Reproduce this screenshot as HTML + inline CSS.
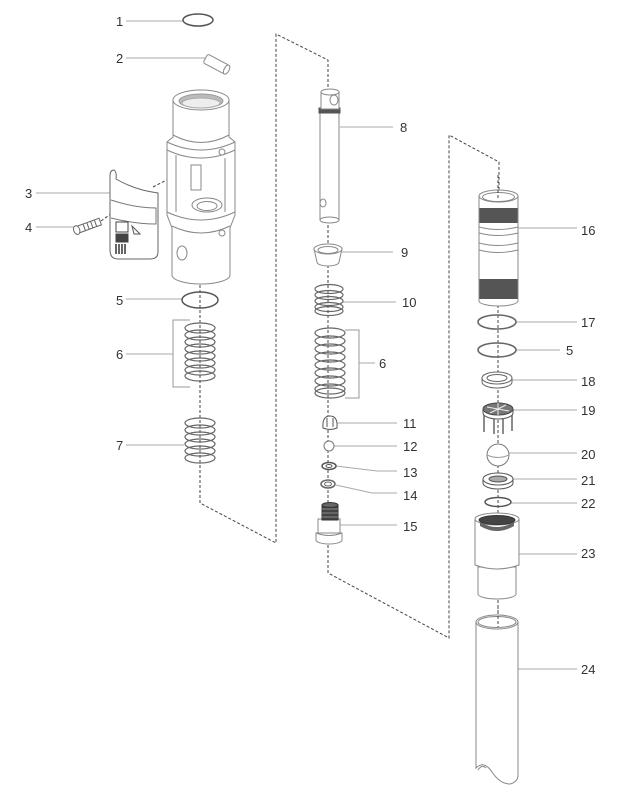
<!DOCTYPE html>
<html><head><meta charset="utf-8"><style>
html,body{margin:0;padding:0;background:#fff;}
svg{display:block;}
text{font-family:"Liberation Sans",sans-serif;font-size:13px;fill:#333;}
</style></head><body>
<svg width="640" height="796" viewBox="0 0 640 796" xmlns="http://www.w3.org/2000/svg">
<!-- dashed guide lines -->
<g fill="none" stroke="#444" stroke-width="1" stroke-dasharray="3 2">
<path d="M200,280 V503 L276,543 V34 L328,60 V88"/>
<path d="M328,220 V573 L449,638 V135 L499,162 V200"/>
<path d="M498,300 V625"/>
<path d="M153,187 L190,168"/>
<path d="M101,221 L112,213"/>
</g>
<!-- label leader lines -->
<g stroke="#aaa" stroke-width="1" fill="none">
<path d="M126,21 H183"/>
<path d="M126,58 H205"/>
<path d="M36,193 H110 V178"/>
<path d="M36,227 H76"/>
<path d="M126,299 H182"/>
<path d="M126,354 H173"/>
<path d="M126,445 H184"/>
<path d="M340,127 H393"/>
<path d="M342,252 H393"/>
<path d="M343,302 H396"/>
<path d="M359,363 H375"/>
<path d="M337,423 H397"/>
<path d="M334,446 H397"/>
<path d="M336,466 L377,471 H397"/>
<path d="M336,485 L372,493 H397"/>
<path d="M340,525 H397"/>
<path d="M515,228 H577"/>
<path d="M516,322 H577"/>
<path d="M516,350 H560"/>
<path d="M512,380 H577"/>
<path d="M513,410 H577"/>
<path d="M509,453 H577"/>
<path d="M513,479 H577"/>
<path d="M511,503 H577"/>
<path d="M509,554 H577"/>
<path d="M508,669 H577"/>
</g>
<!-- bracket lines for 6 -->
<g stroke="#999" stroke-width="1" fill="none">
<path d="M190,320 H173 V387 H190"/>
<path d="M345,330 H359 V398 H345"/>
</g>

<g stroke="#888" stroke-width="1" fill="#fff">
<!-- 1 ring -->
<ellipse cx="198" cy="20" rx="15" ry="6" fill="none" stroke="#555" stroke-width="1.5"/>
<!-- 2 pin -->
<g transform="translate(216,64) rotate(28)">
<rect x="-12" y="-5" width="24" height="10" rx="2"/>
<ellipse cx="12" cy="0" rx="2.5" ry="5"/>
</g>
<!-- housing 3 body -->
<path d="M173,100 V137 L167,142 V215 L172,228 V275 A29,9 0 0 0 230,275 V228 L235,215 V142 L229,137 V100 Z"/>
<ellipse cx="201" cy="100" rx="28" ry="10"/>
<ellipse cx="201" cy="101" rx="22" ry="7" fill="#bbb" stroke="#999"/>
<ellipse cx="201" cy="103" rx="19" ry="5" fill="#eee" stroke="#aaa"/>
<path d="M173,135 Q201,150 229,135" fill="none"/>
<path d="M167,142 Q201,158 235,142" fill="none"/>
<path d="M167,150 Q201,166 235,150" fill="none"/>
<path d="M176,155 V212 M225,158 V212" fill="none"/>
<rect x="191" y="165" width="10" height="25" fill="#fff"/>
<ellipse cx="207" cy="205" rx="15" ry="7"/>
<ellipse cx="207" cy="206" rx="10" ry="4.5"/>
<path d="M167,212 Q201,228 235,212" fill="none"/>
<path d="M172,226 Q201,240 230,226" fill="none"/>
<ellipse cx="182" cy="253" rx="5" ry="7"/>
<circle cx="222" cy="152" r="3"/>
<circle cx="222" cy="233" r="3"/>
<!-- clip 3 -->
<path d="M110,176 Q110,170 114,170 Q117,172 116,179 Q135,190 158,193 V252 Q158,259 150,259 H118 Q110,259 110,250 Z" stroke="#666"/>
<path d="M111,200 Q135,208 156,208 V224 Q135,224 111,218" fill="none" stroke="#777"/>
<rect x="116" y="222" width="12" height="10" fill="none" stroke="#444"/>
<rect x="116" y="234" width="12" height="8" fill="#444" stroke="#444"/>
<path d="M116,244 V254 M119,244 V254 M122,244 V254 M125,244 V254" stroke="#333" stroke-width="1.5"/>
<path d="M132,226 L140,234 L134,234 Z" fill="none" stroke="#555"/>
<!-- screw 4 -->
<g transform="translate(88,226) rotate(-20)">
<rect x="-11" y="-3.5" width="24" height="7" fill="#fff" stroke="#666"/>
<path d="M-4,-3.5 V3.5 M0,-3.5 V3.5 M4,-3.5 V3.5 M8,-3.5 V3.5" stroke="#666"/>
<ellipse cx="-12" cy="0" rx="3" ry="4.5" stroke="#666"/>
</g>
<!-- ring 5 left -->
<ellipse cx="200" cy="300" rx="18" ry="8" fill="none" stroke="#555" stroke-width="1.5"/>
</g>

<!-- springs -->
<g fill="none" stroke="#666" stroke-width="1.2">
<!-- spring 6 left -->
<ellipse cx="200" cy="328" rx="15" ry="5"/>
<ellipse cx="200" cy="335" rx="15" ry="5"/>
<ellipse cx="200" cy="342" rx="15" ry="5"/>
<ellipse cx="200" cy="349" rx="15" ry="5"/>
<ellipse cx="200" cy="356" rx="15" ry="5"/>
<ellipse cx="200" cy="363" rx="15" ry="5"/>
<ellipse cx="200" cy="370" rx="15" ry="5"/>
<ellipse cx="200" cy="376" rx="15" ry="5"/>
<!-- spring 7 -->
<ellipse cx="200" cy="423" rx="15" ry="5"/>
<ellipse cx="200" cy="430" rx="15" ry="5"/>
<ellipse cx="200" cy="437" rx="15" ry="5"/>
<ellipse cx="200" cy="444" rx="15" ry="5"/>
<ellipse cx="200" cy="451" rx="15" ry="5"/>
<ellipse cx="200" cy="458" rx="15" ry="5"/>
<!-- spring 10 -->
<ellipse cx="329" cy="289" rx="14" ry="4.5"/>
<ellipse cx="329" cy="295" rx="14" ry="4.5"/>
<ellipse cx="329" cy="301" rx="14" ry="4.5"/>
<ellipse cx="329" cy="307" rx="14" ry="4.5"/>
<ellipse cx="329" cy="311" rx="14" ry="4.5"/>
<!-- spring 6 middle -->
<ellipse cx="330" cy="333" rx="15" ry="5"/>
<ellipse cx="330" cy="341" rx="15" ry="5"/>
<ellipse cx="330" cy="349" rx="15" ry="5"/>
<ellipse cx="330" cy="357" rx="15" ry="5"/>
<ellipse cx="330" cy="365" rx="15" ry="5"/>
<ellipse cx="330" cy="373" rx="15" ry="5"/>
<ellipse cx="330" cy="381" rx="15" ry="5"/>
<ellipse cx="330" cy="389" rx="15" ry="5"/>
<ellipse cx="330" cy="393" rx="15" ry="5"/>
</g>

<g stroke="#888" stroke-width="1" fill="#fff">
<!-- rod 8 -->
<rect x="320" y="112" width="19" height="108"/>
<ellipse cx="329.5" cy="220" rx="9.5" ry="3"/>
<rect x="320" y="112" width="19" height="8" stroke="none"/>
<path d="M320,112 V220 M339,112 V220" fill="none"/>
<rect x="319" y="108" width="21" height="5" fill="#555" stroke="#555"/>
<rect x="321" y="92" width="18" height="17"/>
<ellipse cx="330" cy="92" rx="9" ry="3"/>
<ellipse cx="334" cy="100" rx="4" ry="5"/>
<ellipse cx="323" cy="203" rx="3" ry="4"/>
<!-- bushing 9 -->
<path d="M314,249 L317,262 A11,4 0 0 0 339,262 L342,249 Z"/>
<ellipse cx="328" cy="249" rx="14" ry="5"/>
<ellipse cx="328" cy="250" rx="10" ry="3.5"/>
<!-- 11 -->
<path d="M323,428 Q322,416 330,416 Q338,416 337,428 Q330,431 323,428 Z" stroke="#555"/>
<path d="M327,418 V427 M333,418 V427" stroke="#555"/>
<!-- 12 -->
<circle cx="329" cy="446" r="5" stroke="#777"/>
<!-- 13 -->
<ellipse cx="329" cy="466" rx="7" ry="3.5" stroke="#555" stroke-width="1.5"/>
<ellipse cx="329" cy="466" rx="3" ry="1.5" stroke="#555"/>
<!-- 14 -->
<ellipse cx="328" cy="484" rx="7" ry="4" stroke="#666" stroke-width="1.5"/>
<ellipse cx="328" cy="484" rx="3.5" ry="2" stroke="#666"/>
<!-- 15 -->
<path d="M316,533 V540 A13,4 0 0 0 342,540 V533 Z"/>
<rect x="318" y="519" width="22" height="14"/>
<path d="M316,533 Q329,538 342,533" fill="none"/>
<rect x="322" y="505" width="16" height="15" fill="#444" stroke="#333"/>
<ellipse cx="330" cy="505" rx="8" ry="2.5" fill="#666" stroke="#333"/>
<path d="M322,509 H338 M322,513 H338 M322,517 H338" stroke="#888"/>
<!-- 16 -->
<path d="M479,196 V301 A19.5,5 0 0 0 518,301 V196 Z"/>
<ellipse cx="498.5" cy="196" rx="19.5" ry="6"/>
<ellipse cx="498.5" cy="197" rx="16" ry="4.5"/>
<rect x="479.5" y="208" width="38" height="15" fill="#555" stroke="none"/>
<path d="M479,227 Q498,232 518,227 M479,233 Q498,238 518,233 M479,243 Q498,248 518,243 M479,250 Q498,255 518,250" fill="none"/>
<rect x="479.5" y="279" width="38" height="20" fill="#555" stroke="none"/>
<!-- ring 17 -->
<ellipse cx="497" cy="322" rx="19" ry="7" fill="none" stroke="#666" stroke-width="1.6"/>
<!-- ring 5 right -->
<ellipse cx="497" cy="350" rx="19" ry="7" fill="none" stroke="#666" stroke-width="1.6"/>
<!-- 18 -->
<path d="M482,378 V382 A15,6 0 0 0 512,382 V378 Z" stroke="#666"/>
<ellipse cx="497" cy="378" rx="15" ry="6" stroke="#666"/>
<ellipse cx="497" cy="378" rx="10" ry="3.5" stroke="#666"/>
<!-- 19 -->
<path d="M484,412 V432 M494,414 V434 M503,414 V434 M512,412 V431" stroke="#666" stroke-width="1.5"/>
<path d="M483,409 V413 A15,6 0 0 0 513,413 V409" stroke="#555"/>
<ellipse cx="498" cy="409" rx="15" ry="6" fill="#777" stroke="#444"/>
<path d="M487,407 L509,411 M490,413 L506,405 M498,403 V415" stroke="#eee"/>
<!-- 20 ball -->
<circle cx="498" cy="455" r="11" stroke="#777"/>
<path d="M487,455 Q498,460 509,455" fill="none" stroke="#999"/>
<!-- 21 -->
<path d="M483,479 V483 A15,6 0 0 0 513,483 V479 Z" stroke="#555"/>
<ellipse cx="498" cy="479" rx="15" ry="6" stroke="#555"/>
<ellipse cx="498" cy="479" rx="9" ry="3" fill="#aaa" stroke="#555"/>
<!-- 22 -->
<ellipse cx="498" cy="502" rx="13" ry="4.5" fill="none" stroke="#555" stroke-width="1.5"/>
<!-- 23 -->
<path d="M478,567 V594 A19,5 0 0 0 516,594 V567 Z"/>
<path d="M475,519 V565 Q497,573 519,565 V519 Z"/>
<ellipse cx="497" cy="519" rx="22" ry="6"/>
<ellipse cx="497" cy="520" rx="18" ry="4.5" fill="#444" stroke="#333"/>
<path d="M480,522 Q497,532 514,522 L514,526 Q497,536 480,526 Z" fill="#666" stroke="none"/>
<!-- 24 -->
<path d="M476,622 V768 Q484,760 492,772 Q500,784 510,784 Q518,782 518,775 V622 Z"/>
<ellipse cx="497" cy="622" rx="21" ry="7"/>
<ellipse cx="497" cy="622" rx="19" ry="5.5"/>
<path d="M478,770 Q482,764 486,768" fill="none"/>
</g>
<!-- dashed overlays through open parts -->
<g fill="none" stroke="#444" stroke-width="1" stroke-dasharray="3 2">
<path d="M498,175 V200"/>
<path d="M498,606 V627"/>
</g>

<!-- labels -->
<text x="116" y="26">1</text>
<text x="116" y="63">2</text>
<text x="25" y="198">3</text>
<text x="25" y="232">4</text>
<text x="116" y="305">5</text>
<text x="116" y="359">6</text>
<text x="116" y="450">7</text>
<text x="400" y="132">8</text>
<text x="401" y="257">9</text>
<text x="402" y="307">10</text>
<text x="379" y="368">6</text>
<text x="403" y="428">11</text>
<text x="403" y="451">12</text>
<text x="403" y="477">13</text>
<text x="403" y="500">14</text>
<text x="403" y="531">15</text>
<text x="581" y="235">16</text>
<text x="581" y="327">17</text>
<text x="566" y="355">5</text>
<text x="581" y="386">18</text>
<text x="581" y="415">19</text>
<text x="581" y="459">20</text>
<text x="581" y="485">21</text>
<text x="581" y="508">22</text>
<text x="581" y="558">23</text>
<text x="581" y="674">24</text>
</svg>
</body></html>
